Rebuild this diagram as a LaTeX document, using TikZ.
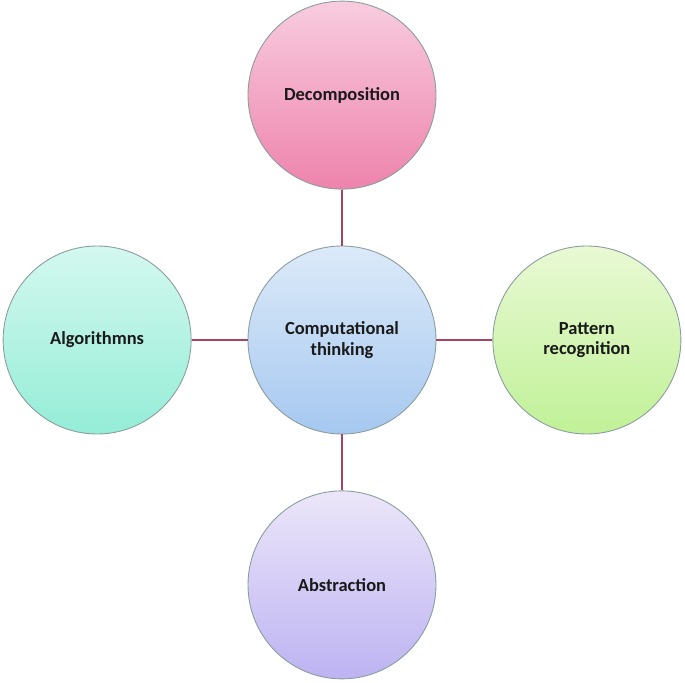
\documentclass[tikz,border=0pt]{standalone}
\usepackage{fontspec}
\setmainfont{Carlito}
\usetikzlibrary{positioning}
\definecolor{linkred}{HTML}{A3455F}
\definecolor{rimgray}{HTML}{8A9C9E}
\definecolor{inkblack}{HTML}{1A1A1A}
\definecolor{pinktop}{HTML}{F8CCDF}
\definecolor{pinkbot}{HTML}{EE83AC}
\definecolor{bluetop}{HTML}{DCEAF9}
\definecolor{bluebot}{HTML}{A6C8F0}
\definecolor{greentop}{HTML}{E9F9D4}
\definecolor{greenbot}{HTML}{C0F197}
\definecolor{aquatop}{HTML}{D4F8EF}
\definecolor{aquabot}{HTML}{94EDD7}
\definecolor{lilactop}{HTML}{ECE6F9}
\definecolor{lilacbot}{HTML}{BDB3F2}
\tikzset{
	topic/.style={circle, draw=rimgray, line width=0.5pt, minimum size=3.76cm, inner sep=0pt,
		align=center, text=inkblack, font=\fontsize{10.5}{11.5}\selectfont\bfseries},
	link/.style={draw=linkred, line width=1pt}
}
\begin{document}
\begin{tikzpicture}[node distance=1.12cm]
		\useasboundingbox (0,0) rectangle (13.7,13.64);
		\node [topic, top color=bluetop, bottom color=bluebot] (ct) at (6.84,6.84) {Computational\\thinking};
		\node [topic, above=of ct, top color=pinktop, bottom color=pinkbot] (dec) {Decomposition};
		\node [topic, right=of ct, top color=greentop, bottom color=greenbot] (pat) {Pattern\\recognition};
		\node [topic, left=of ct, top color=aquatop, bottom color=aquabot] (alg) {Algorithmns};
		\node [topic, below=of ct, top color=lilactop, bottom color=lilacbot] (abs) {Abstraction};
		\draw [link] (dec) -- (ct);
		\draw [link] (ct) -- (pat);
		\draw [link] (alg) -- (ct);
		\draw [link] (ct) -- (abs);
	\end{tikzpicture}
\end{document}
